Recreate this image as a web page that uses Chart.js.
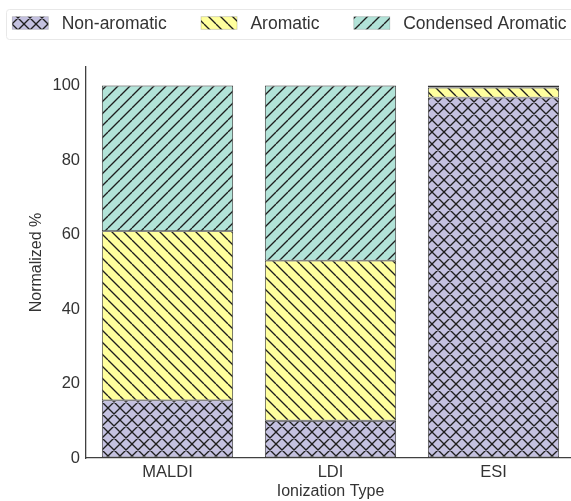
<!DOCTYPE html>
<html>
<head>
<meta charset="utf-8">
<script src="https://cdn.jsdelivr.net/npm/chart.js@4.4.0/dist/chart.umd.min.js"></script>
<style>
  html, body { margin: 0; padding: 0; background: #fff; overflow: hidden; }
  #wrap { width: 575px; height: 501px; }
</style>
</head>
<body>
<div id="wrap"><canvas id="c" width="575" height="501"></canvas></div>
<script>
// ---- data ----
const categories = ["MALDI", "LDI", "ESI"];
const nonAromatic = [15.5, 10.0, 96.8];
const aromatic = [45.4, 43.0, 2.7];
const condensedAromatic = [39.1, 47.0, 0.5];
const seriesLabels = ["Non-aromatic", "Aromatic", "Condensed Aromatic"];
const yTicks = [0, 20, 40, 60, 80, 100];

// ---- styles ----
const FONT = "'Liberation Sans', Arial, sans-serif";
const TEXT = '#333333';
const AXIS = '#404040';
const fills = ['#c4c1e0', '#ffff9e', '#b2e3d8'];
const hatches = ['x', '\\', '/'];
const HS = 12;

function makePattern(bg, hatch) {
  const c = document.createElement('canvas');
  c.width = HS; c.height = HS;
  const g = c.getContext('2d');
  g.fillStyle = bg;
  g.fillRect(0, 0, HS, HS);
  g.strokeStyle = '#1e1e1e';
  g.lineWidth = 1.35;
  g.beginPath();
  for (let k = -1; k <= 1; k++) {
    if (hatch === '\\' || hatch === 'x') {
      g.moveTo(k * HS, 0); g.lineTo(k * HS + HS, HS);
    }
    if (hatch === '/' || hatch === 'x') {
      g.moveTo(k * HS, HS); g.lineTo(k * HS + HS, 0);
    }
  }
  g.stroke();
  return g.createPattern(c, 'repeat');
}

const ctx = document.getElementById('c').getContext('2d');
const patterns = fills.map((f, i) => makePattern(f, hatches[i]));
const seriesValues = [nonAromatic, aromatic, condensedAromatic];

const legendBox = {
  id: 'legendBox',
  afterDraw(chart) {
    const g = chart.ctx;
    g.save();
    g.fillStyle = 'rgba(255,255,255,0.9)';
    g.strokeStyle = '#e8e8e8';
    g.lineWidth = 1;
    g.beginPath();
    g.roundRect(6.5, 9.5, 600, 30, 3);
    g.fill();
    g.stroke();
    g.font = '17.5px ' + FONT;
    g.textBaseline = 'middle';
    g.textAlign = 'left';
    let x = 12.3;
    chart.data.datasets.forEach((ds, i) => {
      g.fillStyle = ds.backgroundColor;
      g.fillRect(x, 16.7, 36, 12.6);
      g.strokeStyle = 'rgba(0,0,0,0.2)';
      g.lineWidth = 0.8;
      g.strokeRect(x, 16.7, 36, 12.6);
      const tx = x + 36 + 13.4;
      g.fillStyle = TEXT;
      g.fillText(ds.label, tx, 24);
      x = tx + g.measureText(ds.label).width + 34.3;
    });
    g.restore();
  }
};

new Chart(ctx, {
  type: 'bar',
  data: {
    labels: categories,
    datasets: seriesValues.map((vals, i) => ({
      label: seriesLabels[i],
      data: vals,
      backgroundColor: patterns[i],
      borderColor: '#333333',
      borderWidth: 0.9,
      borderSkipped: false,
      barPercentage: 0.805,
      categoryPercentage: 1.0
    }))
  },
  options: {
    responsive: false,
    animation: false,
    devicePixelRatio: 1,
    layout: { padding: { top: 67, right: 0, bottom: 0, left: 0 } },
    plugins: { legend: { display: false }, tooltip: { enabled: false } },
    scales: {
      x: {
        stacked: true,
        grid: { display: true, color: 'rgba(0,0,0,0)', drawTicks: false },
        border: { display: true, color: AXIS, width: 1.3 },
        ticks: { color: TEXT, font: { family: FONT, size: 16.5 }, padding: 5 },
        title: { display: true, text: 'Ionization Type', color: TEXT,
                 font: { family: FONT, size: 16 }, padding: { top: 0, bottom: 0 } },
        afterFit: s => { s.height = 43; }
      },
      y: {
        stacked: true,
        min: 0,
        max: 105,
        grid: { display: true, color: 'rgba(0,0,0,0)', drawTicks: false },
        border: { display: true, color: AXIS, width: 1.3 },
        ticks: { stepSize: 20, color: TEXT, font: { family: FONT, size: 16.5 }, padding: 6 },
        afterBuildTicks: s => { s.ticks = yTicks.map(v => ({ value: v })); },
        title: { display: true, text: 'Normalized %', color: TEXT,
                 font: { family: FONT, size: 16 }, padding: { top: 27, bottom: 0 } },
        afterFit: s => { s.width = 86; }
      }
    }
  },
  plugins: [legendBox]
});
</script>
</body>
</html>
